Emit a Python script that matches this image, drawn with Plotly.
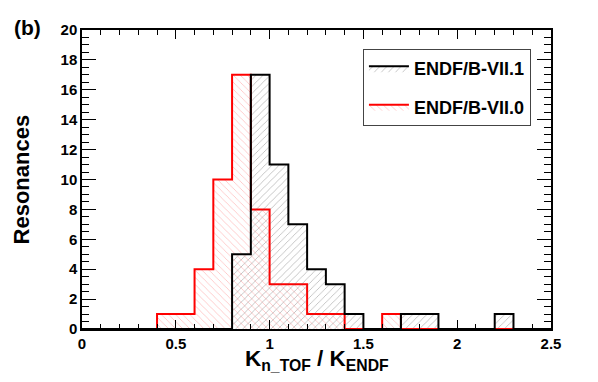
import plotly.graph_objects as go

bin_lo = [round(0.1 * i, 1) for i in range(25)]
# ENDF/B-VII.1 counts per bin (0.1 wide, 0..2.5)
vii1 = [0, 0, 0, 0, 0, 0, 0, 0, 5, 17, 11, 7, 4, 3, 1, 0, 0, 1, 1, 0, 0, 0, 1, 0, 0]
# ENDF/B-VII.0 counts per bin
vii0 = [0, 0, 0, 0, 1, 1, 4, 10, 17, 8, 3, 3, 1, 1, 0, 0, 1, 0, 0, 0, 0, 0, 0, 0, 0]

x_ticks = [0, 0.5, 1, 1.5, 2, 2.5]
x_ticklabels = ["0", "0.5", "1", "1.5", "2", "2.5"]
y_ticks = list(range(0, 21, 2))

edges = bin_lo + [2.5]

def steps(counts):
    return edges, counts + [counts[-1]]

FONT = "Liberation Sans"

fig = go.Figure()
xs, ys = steps(vii0)
fig.add_trace(go.Scatter(
    x=xs, y=ys, mode="lines", line=dict(shape="hv", color="red", width=2),
    fill="tozeroy", fillcolor="rgba(0,0,0,0)",
    fillpattern=dict(shape="\\", fgcolor="rgba(255,110,110,0.9)", bgcolor="rgba(0,0,0,0)",
                     size=5, solidity=0.15),
    name="ENDF/B-VII.0", legendrank=2, legendgroup="b"))
xs, ys = steps(vii1)
fig.add_trace(go.Scatter(
    x=xs, y=ys, mode="lines", line=dict(shape="hv", color="black", width=2),
    fill="tozeroy", fillcolor="rgba(0,0,0,0)",
    fillpattern=dict(shape="/", fgcolor="rgba(90,90,90,0.9)", bgcolor="rgba(0,0,0,0)",
                     size=5, solidity=0.15),
    name="ENDF/B-VII.1", legendrank=1, legendgroup="a"))

fig.update_layout(
    width=598, height=382,
    margin=dict(l=82, r=47, t=30, b=53, autoexpand=False),
    paper_bgcolor="white", plot_bgcolor="white",
    font=dict(family=FONT, color="black"),
    showlegend=True,
    legend=dict(x=0.599, y=0.936, xanchor="left", yanchor="top",
                bordercolor="#444", borderwidth=1, bgcolor="white",
                font=dict(family=FONT, size=18, color="black", weight="bold"),
                tracegroupgap=12, itemwidth=40),
    xaxis=dict(range=[0, 2.5], tickvals=x_ticks, ticktext=x_ticklabels,
               ticks="inside", ticklen=9, tickwidth=1, tickcolor="black",
               minor=dict(dtick=0.1, ticks="inside", ticklen=5, tickcolor="black", tick0=0),
               showline=True, linecolor="black", linewidth=1.5, mirror="allticks",
               showgrid=False, zeroline=False, automargin=False,
               tickfont=dict(family=FONT, size=15, weight="bold")),
    yaxis=dict(range=[0, 20], tickvals=y_ticks,
               ticks="inside", ticklen=14, tickwidth=1, tickcolor="black",
               minor=dict(dtick=0.5, ticks="inside", ticklen=7, tickcolor="black", tick0=0),
               showline=True, linecolor="black", linewidth=1.5, mirror="allticks",
               showgrid=False, zeroline=False, automargin=False,
               tickfont=dict(family=FONT, size=15, weight="bold")),
)
fig.add_annotation(text="<b>(b)</b>", xref="paper", yref="paper",
                   x=-0.149, y=1.01, xanchor="left", yanchor="middle",
                   showarrow=False, font=dict(family=FONT, size=21, color="black"))
fig.add_annotation(text="<b>K<sub>n_TOF</sub> / K<sub>ENDF</sub></b>", xref="paper", yref="paper",
                   x=0.5, y=-0.05, xanchor="center", yanchor="top",
                   showarrow=False, font=dict(family=FONT, size=22.5, color="black"))
fig.add_annotation(text="<b>Resonances</b>", xref="paper", yref="paper",
                   x=-0.128, y=0.5, xanchor="center", yanchor="middle", textangle=-90,
                   showarrow=False, font=dict(family=FONT, size=22, color="black"))

fig.write_html("out.html", post_script="document.body.style.margin='0';",
               config={"displayModeBar": False})
